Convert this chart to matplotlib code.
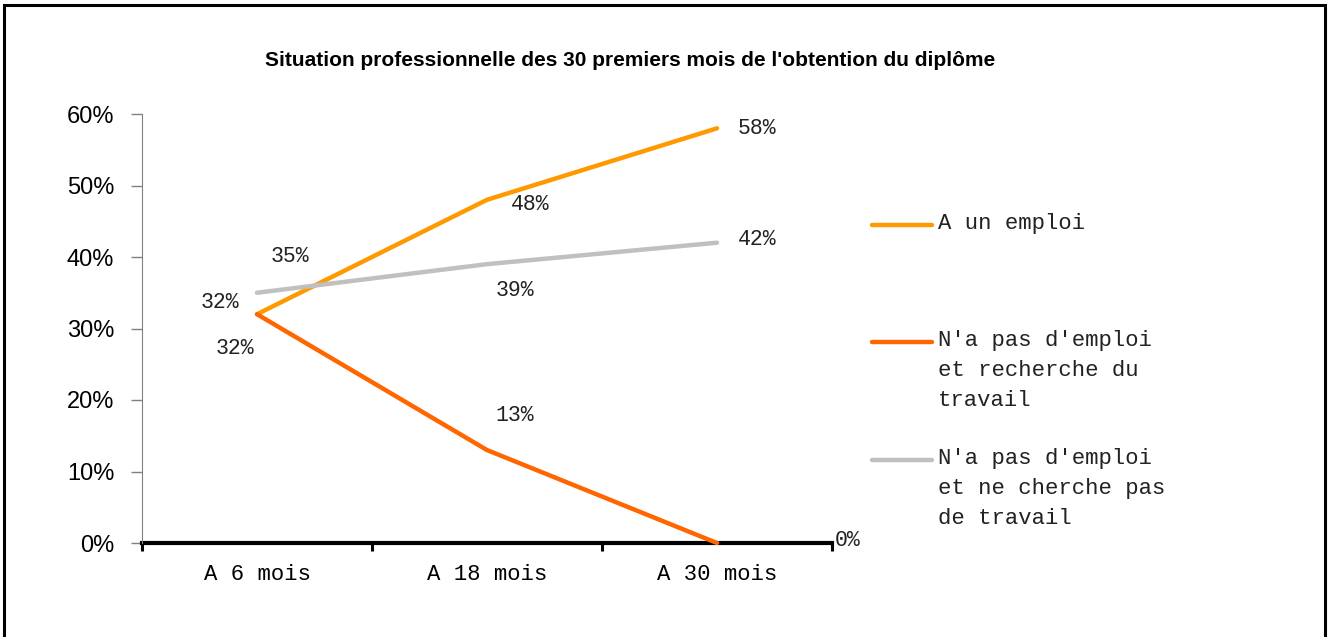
import matplotlib
matplotlib.use("Agg")
import matplotlib.pyplot as plt
from matplotlib.lines import Line2D
from matplotlib.patches import Rectangle

# data (percent)
periods = ["A 6 mois", "A 18 mois", "A 30 mois"]
emploi = [32, 48, 58]
recherche = [32, 13, 0]
ne_cherche = [35, 39, 42]

names = ["A un emploi",
         "N'a pas d'emploi\net recherche du\ntravail",
         "N'a pas d'emploi\net ne cherche pas\nde travail"]
colors = ["#FF9900", "#FF6600", "#C0C0C0"]

# label offsets in pixels (dx, dy) for each point
off_emploi = [(-37, 12), (43, -5), (40, 0)]
off_recherche = [(-22, -34), (28, 35), (131, 3)]
off_ne_cherche = [(33, 36), (28, -26), (40, 3)]

W, H = 1330, 637
mono = "Liberation Mono"

fig = plt.figure(figsize=(W / 100, H / 100), dpi=100)
ax = fig.add_axes([142 / W, 1 - 543 / H, 690 / W, 429 / H])

x = list(range(len(periods)))
series = [emploi, recherche, ne_cherche]
offsets = [off_emploi, off_recherche, off_ne_cherche]
for vals, c, offs in zip(series, colors, offsets):
    ax.plot(x, vals, color=c, lw=3.2, solid_capstyle="round",
            solid_joinstyle="round", clip_on=False, zorder=3)
    for xi, v, (dx, dy) in zip(x, vals, offs):
        ax.annotate(f"{v}%", (xi, v), xytext=(dx, dy),
                    textcoords="offset pixels", ha="center", va="center",
                    fontsize=15.5, family=mono, color="#222222")

ax.set_xlim(-0.5, 2.5)
ax.set_ylim(0, 60)
ax.set_yticks(range(0, 61, 10))
ax.set_yticklabels([f"{v}%" for v in range(0, 61, 10)],
                   family="Liberation Sans", fontsize=17)
ax.set_xticks([-0.5, 0.5, 1.5, 2.5])
ax.set_xticklabels([])
ax.set_xticks(x, minor=True)
ax.set_xticklabels(periods, minor=True, family=mono, fontsize=16)
ax.tick_params(axis="x", which="major", length=6, width=2.2, color="black")
ax.tick_params(axis="x", which="minor", length=0, pad=15)
ax.tick_params(axis="y", length=8, width=1, color="#808080", pad=12)

for s in ["top", "right"]:
    ax.spines[s].set_visible(False)
ax.spines["left"].set_color("#808080")
ax.spines["bottom"].set_linewidth(3)
ax.spines["bottom"].set_color("black")
ax.spines["bottom"].set_zorder(2)

# legend drawn by hand
leg_y = [225, 342, 460]
for name, c, ly in zip(names, colors, leg_y):
    fig.add_artist(Line2D([872 / W, 932 / W], [1 - ly / H, 1 - ly / H],
                          transform=fig.transFigure, color=c, lw=3.2,
                          solid_capstyle="round"))
    fig.text(938 / W, 1 - (ly - 12) / H, name, family=mono, fontsize=16,
             va="top", ha="left", linespacing=1.55, color="#222222")

fig.text(0.474, 1 - 60 / H,
         "Situation professionnelle des 30 premiers mois de l'obtention du diplôme",
         ha="center", va="center", fontsize=15, fontweight="bold",
         family="Liberation Sans")

fig.add_artist(Rectangle((4 / W, -0.1), (1325 - 4) / W, 1.1 - 5 / H,
                         transform=fig.transFigure, fill=False,
                         edgecolor="black", lw=2.2))

fig.savefig("out.png", dpi=100)
